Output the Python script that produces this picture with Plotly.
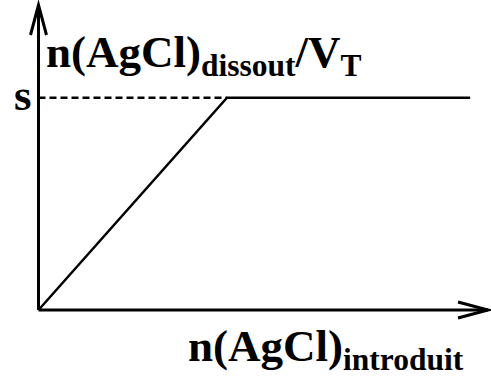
import plotly.graph_objects as go

# Data (s normalised to 1)
n_introduit = [0, 1, 2.29]
n_dissout_sur_VT = [0, 1, 1]
s_value = 1
s_label = "s"
dash_x = [0, 1]
dash_y = [1, 1]

title_y = "n(AgCl)<sub>dissout</sub>/V<sub>T</sub>"
title_x = "n(AgCl)<sub>introduit</sub>"

W, H = 491, 380
ox, oy = 38.5, 310   # origin in pixels
px_x = 188.5  # pixels per x unit
px_y = 212.3  # pixels per y unit
x_range = [-ox / px_x, (W - ox) / px_x]
y_range = [-(H - oy) / px_y, oy / px_y]
x_axis_end = (488 - ox) / px_x
y_axis_end = (oy - 5) / px_y

FONT = "Liberation Serif, Times New Roman, serif"
BIG = dict(family=FONT, size=45, color="black", weight="bold")

fig = go.Figure()
fig.add_trace(go.Scatter(x=dash_x, y=dash_y, mode="lines",
                         line=dict(color="black", width=2.5, dash="7px,4px"),
                         hoverinfo="skip", showlegend=False))
fig.add_trace(go.Scatter(x=n_introduit, y=n_dissout_sur_VT, mode="lines",
                         line=dict(color="black", width=2.5),
                         hoverinfo="skip", showlegend=False))

shapes = [
    dict(type="line", x0=0, y0=0, x1=x_axis_end, y1=0, xref="x", yref="y",
         line=dict(color="black", width=3)),
    dict(type="line", x0=0, y0=0, x1=0, y1=y_axis_end, xref="x", yref="y",
         line=dict(color="black", width=3)),
    dict(type="path", xref="x", yref="y", xsizemode="pixel", ysizemode="pixel",
         xanchor=x_axis_end, yanchor=0, path="M-30,8 L0,0 L-30,-8",
         line=dict(color="black", width=3)),
    dict(type="path", xref="x", yref="y", xsizemode="pixel", ysizemode="pixel",
         xanchor=0, yanchor=y_axis_end, path="M-8,-30 L0,0 L8,-30",
         line=dict(color="black", width=3)),
]

annotations = [
    dict(text=title_y, xref="paper", yref="paper", x=44 / W, y=1 - 55 / H,
         xanchor="left", yanchor="middle", showarrow=False, font=BIG),
    dict(text=title_x, xref="paper", yref="paper", x=186 / W, y=1 - 349 / H,
         xanchor="left", yanchor="middle", showarrow=False, font=BIG),
    dict(text=s_label, xref="paper", yref="paper", x=34 / W, y=1 - 95 / H,
         xanchor="right", yanchor="middle", showarrow=False, font=BIG),
]

fig.update_layout(
    width=W, height=H,
    margin=dict(l=0, r=0, t=0, b=0, pad=0),
    paper_bgcolor="white", plot_bgcolor="white",
    xaxis=dict(range=x_range, visible=False, fixedrange=True),
    yaxis=dict(range=y_range, visible=False, fixedrange=True),
    shapes=shapes,
    annotations=annotations,
)

fig.write_html("out.html", config={"displayModeBar": False},
               post_script="document.body.style.margin='0';")
